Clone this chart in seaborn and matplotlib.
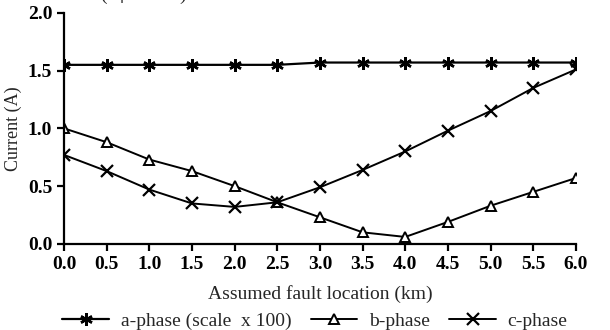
import matplotlib
matplotlib.use("Agg")
import matplotlib.pyplot as plt
import seaborn as sns
import pandas as pd

location = [0.0, 0.5, 1.0, 1.5, 2.0, 2.5, 3.0, 3.5, 4.0, 4.5, 5.0, 5.5, 6.0]
a_phase = [1.55, 1.55, 1.55, 1.55, 1.55, 1.55, 1.57, 1.57, 1.57, 1.57, 1.57, 1.57, 1.57]
b_phase = [1.00, 0.88, 0.73, 0.63, 0.50, 0.36, 0.23, 0.10, 0.06, 0.19, 0.33, 0.45, 0.57]
c_phase = [0.77, 0.63, 0.47, 0.35, 0.32, 0.36, 0.49, 0.64, 0.80, 0.98, 1.15, 1.35, 1.51]
labels = ["a-phase (scale  x 100)", "b-phase", "c-phase"]

sns.set_style("ticks")
plt.rcParams["font.family"] = ["Liberation Serif", "DejaVu Serif"]

df = pd.DataFrame({"loc": location, "a": a_phase, "b": b_phase, "c": c_phase})

fig = plt.figure(figsize=(6.1, 3.3), dpi=100)
ax = fig.add_axes([0.105, 0.261, 0.839, 0.700])

sns.lineplot(data=df, x="loc", y="a", ax=ax, color="black", lw=1.6, marker=(6, 2, 0),
             markersize=9, markeredgewidth=1.8, markeredgecolor="black", label=labels[0])
sns.lineplot(data=df, x="loc", y="b", ax=ax, color="black", lw=1.4, marker="^",
             markersize=7, markerfacecolor="white", markeredgewidth=1.4,
             markeredgecolor="black", label=labels[1])
sns.lineplot(data=df, x="loc", y="c", ax=ax, color="black", lw=1.4, marker="x",
             markersize=8, markeredgewidth=1.6, markeredgecolor="black", label=labels[2])

ax.set_xlim(0, 6)
ax.set_ylim(0, 2.0)
ax.set_xticks(location)
ax.set_xticklabels([f"{v:.1f}" for v in location])
ax.set_yticks([0.0, 0.5, 1.0, 1.5, 2.0])
ax.set_yticklabels(["0.0", "0.5", "1.0", "1.5", "2.0"])
for s in ["top", "right"]:
    ax.spines[s].set_visible(False)
for s in ["left", "bottom"]:
    ax.spines[s].set_linewidth(1.6)
    ax.spines[s].set_color("black")
ax.tick_params(axis="both", direction="out", length=5, width=1.6, colors="black",
               labelsize=14)
for t in ax.get_xticklabels() + ax.get_yticklabels():
    t.set_fontweight("bold")
ax.set_xlabel("Assumed fault location (km)", fontsize=14, labelpad=9)
ax.set_ylabel("Current (A)", fontsize=13, labelpad=4)

ax.legend(loc="center", bbox_to_anchor=(0.49, -0.335), ncol=3, frameon=False,
          fontsize=14, handlelength=2.4, columnspacing=1.0, handletextpad=0.6,
          borderaxespad=0, borderpad=0)

fig.text(0.235, 1.015, "(R$_\\mathrm{f}$= 20 Ω)", fontsize=14, ha="center", va="center")

fig.savefig("out.png", dpi=100)
